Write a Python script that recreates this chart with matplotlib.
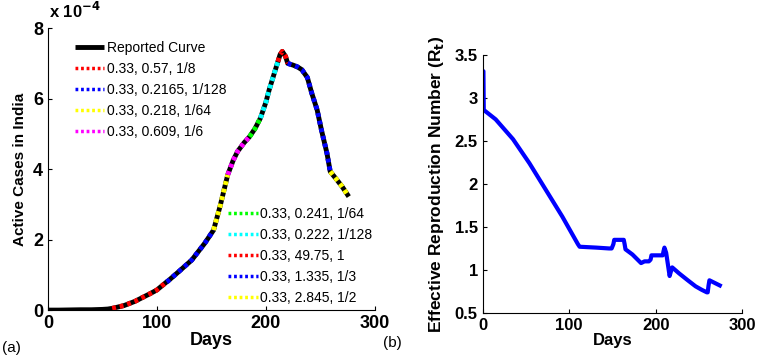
import numpy as np
import matplotlib
matplotlib.use('Agg')
import matplotlib.pyplot as plt

plt.rcParams['font.family'] = 'Liberation Sans'

# reported active cases (fraction of population, x 1e-4)
days = [0, 10, 20, 30, 40, 50, 55, 59, 62, 70, 80, 94, 100, 109, 110, 120, 132, 144, 152,
	158, 165, 170, 174, 180, 185, 190, 195, 200, 203, 208, 211, 213, 215, 218, 220,
	225, 229, 233, 238, 242, 247, 251, 256, 259, 265, 270, 276]
cases = [0.0, 0.0, 0.005, 0.01, 0.01, 0.02, 0.03, 0.05, 0.07, 0.13, 0.25, 0.47, 0.57, 0.8, 0.82,
	1.09, 1.42, 1.9, 2.27, 2.95, 3.84, 4.25, 4.5, 4.75, 4.92, 5.15, 5.45, 5.9, 6.25, 6.75, 7.05,
	7.25, 7.34, 7.2, 7.0, 6.95, 6.9, 6.82, 6.6, 6.16, 5.68, 5.1, 4.45, 3.93, 3.7, 3.5, 3.22]

# fitted segments: (start day, end day, colour, label)
seg_start = [59, 109, 152, 165, 185, 195, 211, 220, 259]
seg_end = [109, 152, 165, 185, 195, 211, 220, 259, 276]
seg_color = ['#ff0000', '#0000ff', '#ffff00', '#ff00ff', '#00ff00', '#00ffff', '#ff0000',
	'#0000ff', '#ffff00']
seg_label = ['0.33, 0.57, 1/8', '0.33, 0.2165, 1/128', '0.33, 0.218, 1/64', '0.33, 0.609, 1/6',
	'0.33, 0.241, 1/64', '0.33, 0.222, 1/128', '0.33, 49.75, 1', '0.33, 1.335, 1/3',
	'0.33, 2.845, 1/2']

# effective reproduction number
rt_days = [0, 0.8, 1.2, 15, 35, 54, 73, 92, 110, 112, 131, 146, 149, 151, 152, 163, 164, 165,
	173, 183, 187, 192, 194, 195, 208, 209, 210, 212, 216, 218, 219, 227, 237, 246, 253, 259,
	260, 261, 262, 268, 274]
rt = [3.31, 3.31, 2.86, 2.75, 2.52, 2.24, 1.93, 1.62, 1.3, 1.27, 1.26, 1.25, 1.25, 1.3, 1.35,
	1.35, 1.3, 1.24, 1.18, 1.08, 1.1, 1.1, 1.12, 1.17, 1.17, 1.22, 1.26, 1.2, 0.93, 1.0, 1.03,
	0.96, 0.88, 0.81, 0.77, 0.74, 0.74, 0.82, 0.88, 0.85, 0.82]

days = np.array(days)
cases = np.array(cases)

fig = plt.figure(figsize=(7.59, 3.61), dpi=100)
ax1 = fig.add_axes([0.063, 0.141, 0.431, 0.781])
ax2 = fig.add_axes([0.636, 0.133, 0.342, 0.715])

lines = []
l0, = ax1.plot(days, cases, color='k', lw=3.5, solid_capstyle='butt', label='Reported Curve')
lines.append(l0)
for s, e, c, lab in zip(seg_start, seg_end, seg_color, seg_label):
	m = (days >= s) & (days <= e)
	l, = ax1.plot(days[m], cases[m], color=c, lw=3.5, linestyle=(0, (0.8, 0.8)), label=lab)
	lines.append(l)

ax1.set_xlim(0, 300)
ax1.set_ylim(0, 8)
ax1.set_xticks([0, 100, 200, 300])
ax1.set_yticks([0, 2, 4, 6, 8])
ax1.set_xlabel('Days', fontsize=13, fontweight='bold', labelpad=0)
ax1.set_ylabel('Active Cases in India', fontsize=11, fontweight='bold', labelpad=4)
ax1.text(0.005, 1.025, r'x 10$^{\mathbf{-4}}$', transform=ax1.transAxes, fontsize=12, fontweight='bold',
	va='bottom', ha='left')

leg1 = ax1.legend(handles=lines[:5], loc='upper left', bbox_to_anchor=(0.065, 0.975), frameon=False,
	fontsize=10, handlelength=2.1, handletextpad=0.2, labelspacing=0.5, borderaxespad=0.0)
for t in leg1.get_lines()[1:]:
	t.set_linewidth(2.5)
ax1.add_artist(leg1)
leg2 = ax1.legend(handles=lines[5:], loc='lower left', bbox_to_anchor=(0.535, 0.0), frameon=False,
	fontsize=10, handlelength=2.1, handletextpad=0.2, labelspacing=0.5, borderaxespad=0.0)
for t in leg2.get_lines():
	t.set_linewidth(2.5)

ax2.plot(rt_days, rt, color='#0000ff', lw=3)
ax2.set_xlim(0, 300)
ax2.set_ylim(0.5, 3.5)
ax2.set_xticks([0, 100, 200, 300])
ax2.set_yticks([0.5, 1, 1.5, 2, 2.5, 3, 3.5])
ax2.set_yticklabels(['0.5', '1', '1.5', '2', '2.5', '3', '3.5'])
ax2.set_xlabel('Days', fontsize=12, fontweight='bold', labelpad=0)
ax2.set_ylabel('Effective Reproduction Number (R$_\\mathbf{t}$)', fontsize=12.5, fontweight='bold', labelpad=6)

for ax in [ax1, ax2]:
	ax.spines['top'].set_visible(False)
	ax.spines['right'].set_visible(False)
	ax.tick_params(direction='in', length=3, width=0.8)
	for t in ax.get_xticklabels() + ax.get_yticklabels():
		t.set_fontweight('bold')
ax1.tick_params(labelsize=13)
ax2.tick_params(labelsize=12)

fig.text(0.002, 0.025, '(a)', fontsize=11)
fig.text(0.505, 0.04, '(b)', fontsize=11)

fig.savefig('out.png', dpi=100)
